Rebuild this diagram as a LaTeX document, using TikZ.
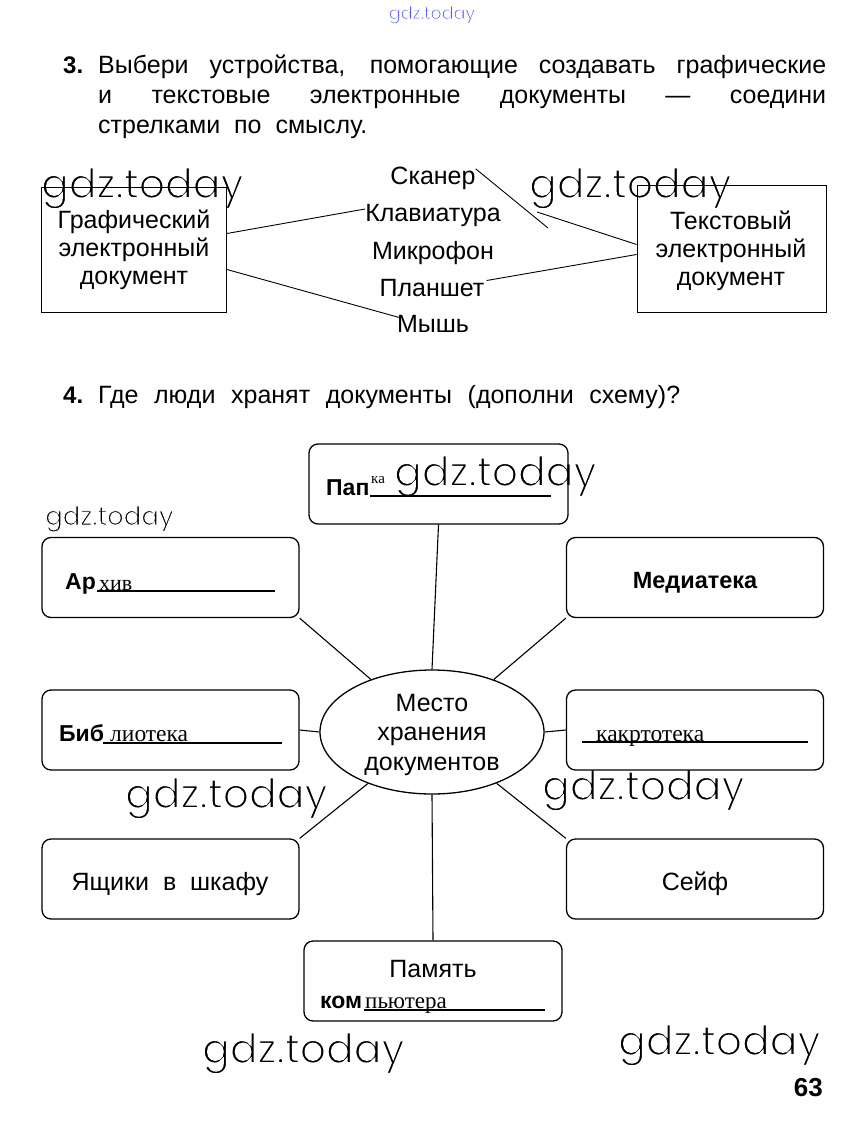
\documentclass[tikz,border=0pt]{standalone}
\usepackage{fontspec}
\setmainfont{Liberation Sans}
\newfontfamily\hand{Liberation Serif}
\newfontfamily\wmf{Poppins}
\usetikzlibrary{shapes.geometric}
\definecolor{wmblue}{RGB}{70,70,230}
\newcommand\thinwm[2]{\special{pdf:literal direct 1 1 1 RG #1 w 2 Tr}#2\special{pdf:literal direct 0 Tr}}
\tikzset{
  txt/.style={inner sep=0pt,font=\fontsize{25}{28}\selectfont},
  btxt/.style={inner sep=0pt,font=\fontsize{23}{28}\selectfont\bfseries},
  hw/.style={inner sep=0pt,font=\fontsize{23.5}{26}\selectfont\hand},
  wmark/.style={inner sep=0pt,anchor=base west,font=\fontsize{41}{42}\selectfont\wmf},
  sqbox/.style={draw,line width=0.9pt,inner sep=0pt},
  rbox/.style={draw,line width=1.3pt,rounded corners=9pt,minimum width=257pt,minimum height=80pt,inner sep=0pt},
  conn/.style={line width=0.9pt},
  link/.style={line width=1.1pt},
  uline/.style={line width=1.3pt}
}
\begin{document}
\begin{tikzpicture}[x=1pt,y=-1pt]
\useasboundingbox (0,0) rectangle (863,1126);
\fill[white] (0,0) rectangle (863,1126);
% watermarks (drawn first so that their thin outlines cut nothing)
\node[inner sep=0pt,anchor=base,font=\fontsize{17.5}{18}\selectfont\wmf,text=wmblue] (wtop) at (432,19) {\thinwm{0.7}{gdz.today}};
\node[wmark] (w1) at (41,198) {\thinwm{1.6}{gdz.today}};
\node[wmark] (w2) at (529,198) {\thinwm{1.6}{gdz.today}};
\node[wmark] (w3) at (394,486) {\thinwm{1.6}{gdz.today}};
\node[wmark,font=\fontsize{26}{27}\selectfont\wmf] (w4) at (45,525) {\thinwm{1.0}{gdz.today}};
\node[wmark] (w5) at (125,808) {\thinwm{1.6}{gdz.today}};
\node[wmark] (w6) at (542,800) {\thinwm{1.6}{gdz.today}};
\node[wmark] (w7) at (202,1063) {\thinwm{1.6}{gdz.today}};
\node[wmark] (w8) at (618,1055) {\thinwm{1.6}{gdz.today}};
% question 3
\node[btxt,anchor=base west,font=\fontsize{24}{28}\selectfont\bfseries] (q3n) at (63,74) {3.};
\node[txt,anchor=base west] (q3a) at (98,74) {\makebox[728pt][s]{Выбери устройства, помогающие создавать графические}};
\node[txt,anchor=base west] (q3b) at (98,104) {\makebox[728pt][s]{и текстовые электронные документы — соедини}};
\node[txt,anchor=base west] (q3c) at (98,134) {стрелками\ \ по\ \ смыслу.};
% boxes of question 3
\node[sqbox,minimum width=185pt,minimum height=125pt] (gr) at (134,249.5) {};
\node[sqbox,minimum width=189pt,minimum height=127pt] (tx) at (731.5,248.5) {};
\node[txt,anchor=base] (gr1) at (134,228) {Графический};
\node[txt,anchor=base] (gr2) at (134,256) {электронный};
\node[txt,anchor=base] (gr3) at (134,284) {документ};
\node[txt,anchor=base] (tx1) at (731,229) {Текстовый};
\node[txt,anchor=base] (tx2) at (731,257) {электронный};
\node[txt,anchor=base] (tx3) at (731,285) {документ};
% devices
\node[txt,anchor=base] (scan) at (433,185) {Сканер};
\node[txt,anchor=base] (klav) at (433,221) {Клавиатура};
\node[txt,anchor=base] (mic) at (433,259) {Микрофон};
\node[txt,anchor=base] (plan) at (432,296) {Планшет};
\node[txt,anchor=base] (mouse) at (433,332) {Мышь};
% connectors of question 3
\draw[conn] ([yshift=16pt]gr.east) -- ([yshift=6pt]klav.west);
\draw[conn] ([yshift=-20pt]gr.east) -- ([xshift=2pt,yshift=6pt]mouse.west);
\coordinate (scanend) at (548,228);
\coordinate (scanmid) at (537,212);
\draw[conn] ([yshift=10pt]scan.east) -- (scanend);
\draw[conn] (scanmid) -- ([yshift=4pt]tx.west);
\draw[conn] ([xshift=2pt,yshift=7pt]plan.east) -- ([yshift=-6pt]tx.west);
% question 4
\node[btxt,anchor=base west,font=\fontsize{24}{28}\selectfont\bfseries] (q4n) at (63,403) {4.};
\node[txt,anchor=base west] (q4a) at (98,403) {\makebox[582pt][s]{Где люди хранят документы (дополни схему)?}};
% ellipse
\node[draw,ellipse,line width=1.3pt,minimum width=224pt,minimum height=124pt,inner sep=0pt] (ell) at (432,732) {};
\node[txt,anchor=base] (e1) at (432,711) {Место};
\node[txt,anchor=base] (e2) at (432,740) {хранения};
\node[txt,anchor=base] (e3) at (432,770) {документов};
% rounded boxes
\node[rbox,minimum width=259pt] (top) at (438.5,484) {};
\node[rbox] (ul) at (170.5,577.5) {};
\node[rbox] (ur) at (695,577.5) {};
\node[rbox] (ml) at (170.5,730) {};
\node[rbox] (mr) at (695,730) {};
\node[rbox] (ll) at (170.5,879) {};
\node[rbox] (lr) at (695,879) {};
\node[rbox,minimum width=258pt] (bot) at (433,981) {};
% connectors of question 4
\draw[link] (ell.north) -- (top.south);
\draw[link] (ell.south) -- (bot.north);
\draw[link] (ell.west) -- (ml.east);
\draw[link] (ell.east) -- (mr.west);
\draw[link] (ul.south east) -- (ell);
\draw[link] (ur.south west) -- (ell);
\draw[link] (ll.north east) -- (ell);
\draw[link] (lr.north west) -- (ell);
% box contents
\node[btxt,anchor=base west] (pap) at (326,495) {Пап};
\draw[uline] (370,496) -- (551,496);
\node[hw,anchor=base west,font=\fontsize{15}{16}\selectfont\hand] (papa) at (371,483) {ка};
\node[btxt,anchor=base west] (ar) at (65,589) {Ар};
\draw[uline] (97,591) -- (275,591);
\node[hw,anchor=base west,font=\fontsize{22}{24}\selectfont\hand] (ara) at (99,590) {хив};
\node[btxt,anchor=base,font=\fontsize{23.5}{28}\selectfont\bfseries] (med) at (695,588) {Медиатека};
\node[btxt,anchor=base west] (bib) at (59,741) {Биб};
\draw[uline] (103,743) -- (282,743);
\node[hw,anchor=base west] (biba) at (110,741) {лиотека};
\draw[uline] (582,742) -- (808,742);
\node[hw,anchor=base west] (kart) at (596,741) {какртотека};
\node[txt,anchor=base] (ya) at (170,890) {Ящики\ \ в\ \ шкафу};
\node[txt,anchor=base] (seif) at (695,890) {Сейф};
\node[txt,anchor=base] (pam) at (433,977) {Память};
\node[btxt,anchor=base west] (kom) at (320,1008) {ком};
\draw[uline] (364,1010) -- (545,1010);
\node[hw,anchor=base west,font=\fontsize{23}{26}\selectfont\hand] (koma) at (365,1008) {пьютера};
% page number
\node[btxt,anchor=base east,font=\fontsize{26}{28}\selectfont\bfseries] (pg) at (823,1096) {63};
\end{tikzpicture}
\end{document}
